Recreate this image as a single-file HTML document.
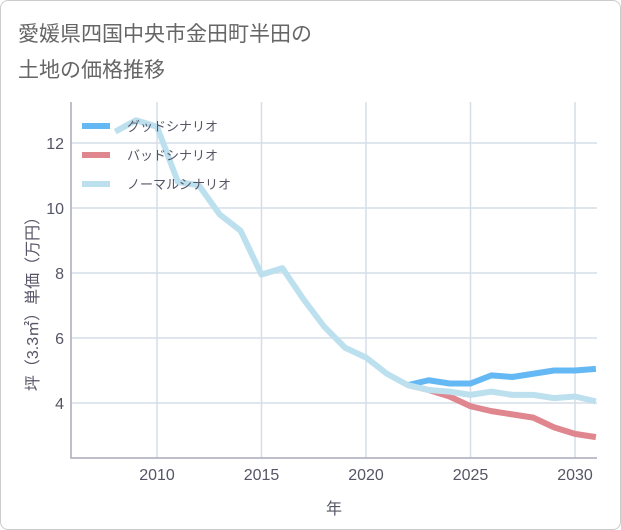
<!DOCTYPE html>
<html><head><meta charset="utf-8"><style>
body{margin:0;background:#fff;font-family:"Liberation Sans","Noto Sans CJK JP",sans-serif;}
#card{position:absolute;left:0;top:0;width:619px;height:528px;border:1px solid #ccc;border-radius:8px;background:#fff;}
</style></head><body>
<div id="card"></div>
<svg id="c" width="621" height="530" style="position:absolute;left:0;top:0">
<text x="18" y="41" font-size="21" fill="#666">愛媛県四国中央市金田町半田の</text>
<text x="18" y="77" font-size="21" fill="#666">土地の価格推移</text>
</svg>
<script>
const years=[2008,2009,2010,2011,2012,2013,2014,2015,2016,2017,2018,2019,2020,2021,2022,2023,2024,2025,2026,2027,2028,2029,2030,2031];
const normal=[12.35,12.7,12.5,10.8,10.7,9.8,9.3,7.95,8.15,7.2,6.35,5.7,5.4,4.9,4.55,4.4,4.35,4.25,4.35,4.25,4.25,4.15,4.2,4.05];
const goodYears=[2022,2023,2024,2025,2026,2027,2028,2029,2030,2031];
const good=[4.55,4.7,4.6,4.6,4.85,4.8,4.9,5.0,5.0,5.05];
const bad=[4.55,4.4,4.2,3.9,3.75,3.65,3.55,3.25,3.05,2.95];
const yTicks=[4,6,8,10,12];
const xTicks=[2010,2015,2020,2025,2030];
const NS="http://www.w3.org/2000/svg",svg=document.getElementById('c');
const L=71,R=597,T=102,B=458;
const xs=y=>157+(y-2010)*20.9, ys=v=>403-(v-4)*32.5;
function el(t,a){const e=document.createElementNS(NS,t);for(const k in a)e.setAttribute(k,a[k]);svg.appendChild(e);return e;}
yTicks.forEach(v=>{const g=el('line',{x1:L,x2:R,y1:ys(v),y2:ys(v),stroke:'#d5dde8','stroke-width':1.5});


const t=el('text',{x:64,y:ys(v)+6,'text-anchor':'end','font-size':16,fill:'#556'});t.textContent=v;

});
xTicks.forEach(v=>{const g=el('line',{x1:xs(v),x2:xs(v),y1:T,y2:B,stroke:'#d5dde8','stroke-width':1.5});


const t=el('text',{x:xs(v),y:480,'text-anchor':'middle','font-size':16,fill:'#556'});t.textContent=v;

});
const ax=el('path',{d:`M${L},${T}V${B}H${R}`,fill:'none',stroke:'#aab','stroke-width':1.5});


function line(xv,yv,c,n){const p=el('polyline',{points:xv.map((x,i)=>xs(x)+','+ys(yv[i])).join(' '),fill:'none',stroke:c,'stroke-width':6,'stroke-linejoin':'round'});

}
line(goodYears,bad,'#e0868f','bad-scenario-line');
line(goodYears,good,'#64b8f4','good-scenario-line');
line(years,normal,'#bde0ef','normal-scenario-line');
[['グッドシナリオ','#64b8f4'],['バッドシナリオ','#e0868f'],['ノーマルシナリオ','#bde0ef']].forEach((d,i)=>{const y=126+i*29;
const l=el('line',{x1:82,x2:110,y1:y,y2:y,stroke:d[1],'stroke-width':6});


const t=el('text',{x:127,y:y+5,'font-size':13,fill:'#556'});t.textContent=d[0];

});
const xt=el('text',{x:334,y:514,'text-anchor':'middle','font-size':16,fill:'#556'});xt.textContent='年';


const yt=el('text',{x:0,y:0,'text-anchor':'middle','font-size':16,fill:'#556',transform:'translate(38,300) rotate(-90)'});yt.textContent='坪（3.3㎡）単価（万円）';


</script>
</body></html>
